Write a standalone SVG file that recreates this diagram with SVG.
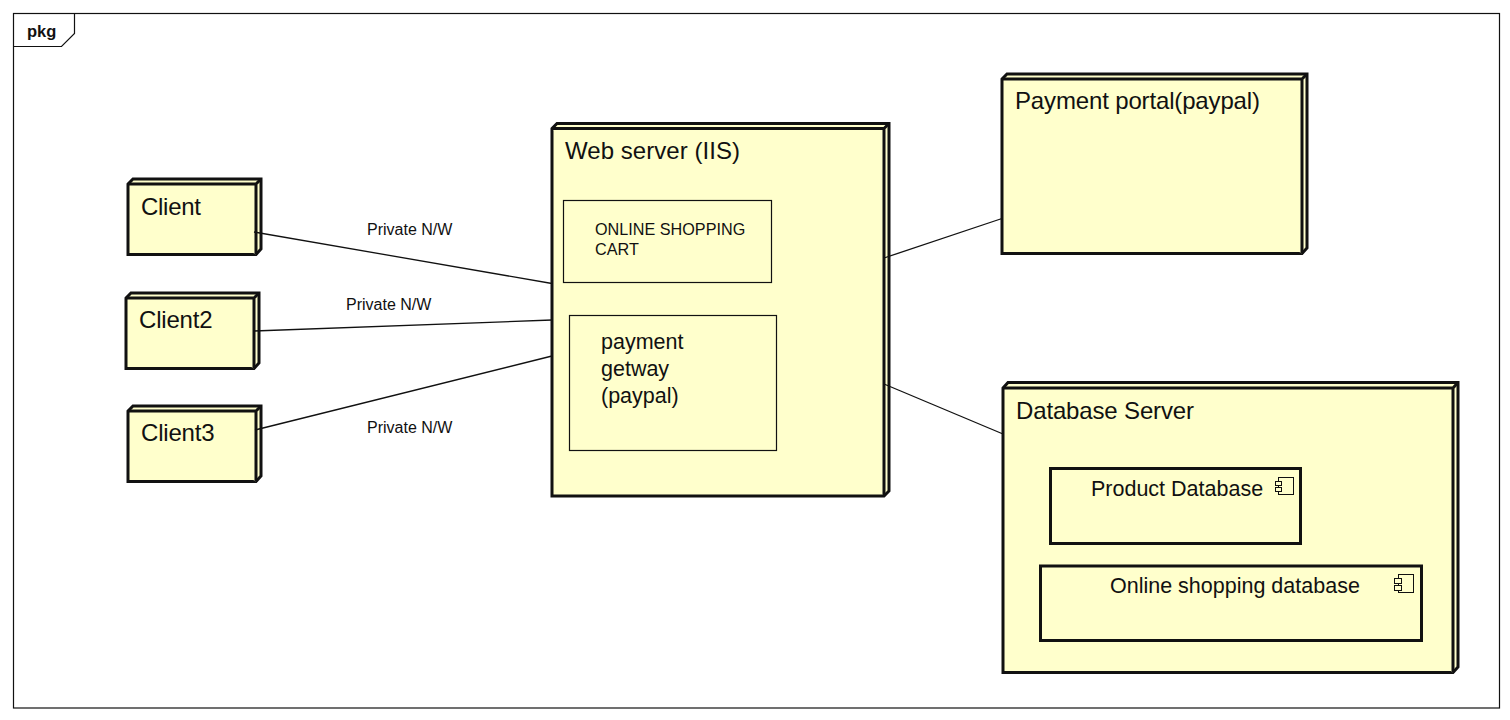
<svg xmlns="http://www.w3.org/2000/svg" width="1510" height="720" viewBox="0 0 1510 720">
<style>
text{font-family:"Liberation Sans",Arial,sans-serif;fill:#111}
.n{font-size:24px}
.m{font-size:21.5px}
.s{font-size:16.2px}
.l{font-size:16px}
.b{fill:#ffffcc;stroke:#111;stroke-width:3;stroke-linejoin:miter}
.t{fill:#ffffcc;stroke:#111;stroke-width:1.2}
.c{fill:#ffffcc;stroke:#111;stroke-width:3}
.i{fill:#ffffcc;stroke:#111;stroke-width:1}
.k{fill:none;stroke:#111;stroke-width:1.3}
</style>
<rect width="1510" height="720" fill="#fff"/>
<g id="frame">
<rect x="13.5" y="13.5" width="1486" height="694.500" fill="#fff" stroke="#111" stroke-width="1.2"/>
<path d="M13.5 46.5H61.5L74.5 33.5V13.5" fill="none" stroke="#111" stroke-width="1.2"/>
<text x="27" y="37" font-size="16.5" font-weight="700">pkg</text>
</g>
<g id="client">
<path class="b" d="M128 184L133 179H261V249L256 254.500H128Z"/>
<path class="b" d="M128 184H256V254.500M256 184L261 179" fill="none"/>
<text class="n" x="141" y="215" textLength="60">Client</text>
</g>
<g id="client2">
<path class="b" d="M126 298L131 293H259V363L254 368.500H126Z"/>
<path class="b" d="M126 298H254V368.500M254 298L259 293" fill="none"/>
<text class="n" x="139" y="328" textLength="73.500">Client2</text>
</g>
<g id="client3">
<path class="b" d="M128 411L133 406H261V476L256 481.500H128Z"/>
<path class="b" d="M128 411H256V481.500M256 411L261 406" fill="none"/>
<text class="n" x="141" y="441" textLength="73.500">Client3</text>
</g>
<g id="web-server">
<path class="b" d="M552 128.500L557 123.500H889V491L884 496H552Z"/>
<path class="b" d="M552 128.500H884V496M884 128.500L889 123.500" fill="none"/>
<text class="n" x="565" y="159" textLength="175">Web server (IIS)</text>
</g>
<g id="online-shopping-cart">
<rect class="t" x="563.500" y="200.500" width="208" height="82"/>
<text class="s" x="595" y="235"><tspan x="595">ONLINE SHOPPING</tspan><tspan x="595" dy="20">CART</tspan></text>
</g>
<g id="payment-getway">
<rect class="t" x="569.500" y="315.500" width="207" height="135"/>
<text class="m" x="601" y="349"><tspan x="601">payment</tspan><tspan x="601" dy="27">getway</tspan><tspan x="601" dy="27">(paypal)</tspan></text>
</g>
<g id="payment-portal">
<path class="b" d="M1002 79L1007 74H1307V248L1302 253.500H1002Z"/>
<path class="b" d="M1002 79H1302V253.500M1302 79L1307 74" fill="none"/>
<text class="n" x="1015" y="109" textLength="245">Payment portal(paypal)</text>
</g>
<g id="database-server">
<path class="b" d="M1003 388L1008 382.500H1458V667L1453 672.500H1003Z"/>
<path class="b" d="M1003 388H1453V672.500M1453 388L1458 382.500" fill="none"/>
<text class="n" x="1016" y="419" textLength="178">Database Server</text>
</g>
<g id="product-database">
<rect class="c" x="1050.500" y="468.500" width="250" height="75"/>
<text class="m" x="1091" y="496">Product Database</text>
<rect class="i" x="1278.500" y="477.500" width="15" height="17"/>
<rect class="i" x="1275.500" y="481.500" width="6" height="4"/>
<rect class="i" x="1275.500" y="487.500" width="6" height="4"/>
</g>
<g id="online-shopping-database">
<rect class="c" x="1040.500" y="566" width="381" height="74.500"/>
<text class="m" x="1110" y="593">Online shopping database</text>
<rect class="i" x="1398.500" y="574.500" width="15" height="18"/>
<rect class="i" x="1394.500" y="578.500" width="7" height="5"/>
<rect class="i" x="1394.500" y="585.500" width="7" height="5"/>
</g>
<g id="connectors">
<path class="k" d="M254 232L552 283.500"/>
<path class="k" d="M254 331L552 320"/>
<path class="k" d="M255 430L552 356"/>
<path class="k" d="M884 258L1002 218.500"/>
<path class="k" d="M884 384L1003 434"/>
</g>
<g id="labels">
<text class="l" x="367" y="235">Private N/W</text>
<text class="l" x="346" y="310">Private N/W</text>
<text class="l" x="367" y="433">Private N/W</text>
</g>
</svg>
